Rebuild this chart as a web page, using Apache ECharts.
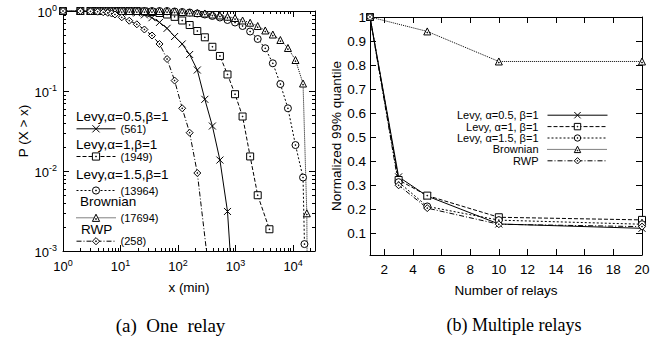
<!DOCTYPE html>
<html>
<head>
<meta charset="utf-8">
<script src="https://cdn.jsdelivr.net/npm/echarts@6/dist/echarts.min.js"></script>
<style>
  html, body { margin: 0; padding: 0; background: #fff; }
  #chart { width: 662px; height: 339px; }
</style>
</head>
<body>
<div id="chart"></div>
<script>
const FONT = '"Liberation Sans", Arial, sans-serif';
const SERIF = '"Liberation Serif", "Times New Roman", serif';

// (a) One relay: [x in minutes, P(X > x)]
const levy05A = [[1,1],[2,1],[3,1],[4,1],[5,1],[6,1],[7,1],[8,0.993],[10.5,0.985],[14.2,0.97],[19.2,0.945],[26,0.895],[35.2,0.825],[47.6,0.72],[64.4,0.607],[87.1,0.48],[118,0.387],[159,0.286],[216,0.183],[292,0.0787],[395,0.0365],[534,0.0137],[723,0.00312],[990,0.0001]];
const levy1A = [[1,1],[2,1],[3,1],[4,1],[5,1],[6,1],[7,1],[8,1],[10.5,1],[14.2,1],[19.2,1],[26,0.986],[35.2,0.972],[47.6,0.944],[64.4,0.904],[87.1,0.845],[118,0.761],[159,0.668],[216,0.562],[292,0.469],[395,0.357],[534,0.274],[723,0.161],[978,0.0912],[1323,0.048],[1791,0.0152],[2423,0.00498],[3873,0.00187]];
const levy15A = [[1,1],[2,1],[3,1],[4,1],[5,1],[6,1],[7,1],[8,1],[10.5,1],[14.2,1],[19.2,1],[26,1],[35.2,1],[47.6,1],[64.4,1],[87.1,0.986],[118,0.972],[159,0.958],[216,0.931],[292,0.904],[395,0.866],[534,0.829],[723,0.772],[978,0.718],[1323,0.649],[1791,0.554],[2423,0.447],[3278,0.342],[4436,0.222],[6001,0.122],[8121,0.0608],[10987,0.0211],[14866,0.00829],[15740,0.00122]];
const brownianA = [[1,1],[2,1],[3,1],[4,1],[5,1],[6,1],[7,1],[8,1],[10.5,1],[14.2,1],[19.2,1],[26,1],[35.2,1],[47.6,1],[64.4,1],[87.1,0.986],[118,0.972],[159,0.958],[216,0.944],[292,0.931],[395,0.904],[534,0.879],[723,0.849],[978,0.818],[1323,0.761],[1791,0.714],[2423,0.649],[3278,0.571],[4436,0.508],[6001,0.434],[8121,0.345],[10987,0.244],[14866,0.124],[17300,0.00296],[17800,0.0001]];
const rwpA = [[1,1],[2,1],[3,0.99],[4,0.98],[5,0.965],[6,0.95],[7,0.93],[8,0.905],[10.5,0.834],[14.2,0.756],[19.2,0.682],[26,0.587],[35.2,0.494],[47.6,0.387],[64.4,0.251],[87.1,0.135],[118,0.0608],[159,0.0301],[216,0.00944],[455,0.0001]];
const titlesA = ['Levy,α=0.5,β=1', 'Levy,α=1,β=1', 'Levy,α=1.5,β=1', 'Brownian', 'RWP'];
const countsA = ['(561)', '(1949)', '(13964)', '(17694)', '(258)'];

// (b) Multiple relays: normalized 99% quantile per number of relays
const relays = [1, 3, 5, 10, 20];
const relaysBrownian = [1, 5, 10, 20];
const levy05B = [1, 0.335, 0.255, 0.139, 0.121];
const levy1B = [1, 0.322, 0.257, 0.167, 0.156];
const levy15B = [1, 0.313, 0.212, 0.155, 0.138];
const brownianB = [1, 0.94, 0.815, 0.815];
const rwpB = [1, 0.30, 0.205, 0.138, 0.128];
const namesB = ['Levy, α=0.5, β=1', 'Levy, α=1, β=1', 'Levy, α=1.5, β=1', 'Brownian', 'RWP'];
const xTicksB = [2, 4, 6, 8, 10, 12, 14, 16, 18, 20];
const yTicksB = [0.1, 0.2, 0.3, 0.4, 0.5, 0.6, 0.7, 0.8, 0.9, 1];

// legend placement of panel (a), px
const titleLeftA = [76, 76, 76, 80, 81];
const titleMidA = [118, 146, 175.7, 203.3, 231.3];
const sampleMidA = [128.3, 156, 190, 217.3, 240.7];

// gnuplot-like point types (hollow with a centre dot) and dash patterns
const marks = [
  { symbol: 'path://M0,0L10,10M10,0L0,10', dash: 'solid' },
  { symbol: 'path://M0,0H10V10H0Z M4.5,4.5H5.5V5.5H4.5Z', dash: [4, 2] },
  { symbol: 'path://M10,5A5,5,0,1,1,0,5A5,5,0,1,1,10,5Z M4.5,4.5H5.5V5.5H4.5Z', dash: [2, 2] },
  { symbol: 'path://M5,0L10,9L0,9Z M4.5,5.5H5.5V6.5H4.5Z', dash: [1, 1] },
  { symbol: 'path://M5,0L10,5L5,10L0,5Z M4.5,4.5H5.5V5.5H4.5Z', dash: [5, 2, 1, 2] }
];

function line(name, data, mark, axis) {
  return {
    type: 'line', name, data, xAxisIndex: axis, yAxisIndex: axis,
    symbol: mark.symbol, symbolSize: 7,
    lineStyle: { color: '#000', width: 1, type: mark.dash },
    itemStyle: { color: '#fff', borderColor: '#000', borderWidth: 1 },
    emphasis: { disabled: true }, silent: true, animation: false
  };
}

// 2..9 x 10^e for the log minor ticks
function minorValues(from, to, max) {
  const out = [];
  for (let e = from; e < to; e++)
    for (let m = 2; m <= 9; m++) if (m * Math.pow(10, e) < max) out.push(m * Math.pow(10, e));
  return out;
}

function minorTicks(values, dir) {
  return {
    type: 'custom', xAxisIndex: 0, yAxisIndex: 0, silent: true, clip: false, animation: false,
    data: values.map(v => dir === 'x' ? [v, 1] : [1, v]),
    renderItem: (params, api) => {
      const r = params.coordSys;
      const p = api.coord([api.value(0), api.value(1)]);
      const s = { stroke: '#000', lineWidth: 1 };
      if (dir === 'x') {
        const x = Math.round(p[0]) + 0.5;
        return { type: 'group', children: [
          { type: 'line', shape: { x1: x, y1: r.y + r.height, x2: x, y2: r.y + r.height - 3 }, style: s },
          { type: 'line', shape: { x1: x, y1: r.y, x2: x, y2: r.y + 3 }, style: s }
        ] };
      }
      const y = Math.round(p[1]) + 0.5;
      return { type: 'group', children: [
        { type: 'line', shape: { x1: r.x, y1: y, x2: r.x + 3, y2: y }, style: s },
        { type: 'line', shape: { x1: r.x + r.width, y1: y, x2: r.x + r.width - 3, y2: y }, style: s }
      ] };
    }
  };
}

const pow10Label = v => {
  const e = Math.round(Math.log10(v));
  return Math.abs(v / Math.pow(10, e) - 1) < 1e-6 ? '{b|10}{s|' + e + '}' : '';
};
const powRich = {
  b: { fontSize: 13, fontFamily: FONT, color: '#000', lineHeight: 13, verticalAlign: 'bottom' },
  s: { fontSize: 9, fontFamily: FONT, color: '#000', lineHeight: 15, verticalAlign: 'top' }
};

const axLine = { show: true, onZero: false, lineStyle: { color: '#000', width: 1 } };
const axTick = { show: true, inside: true, length: 6, lineStyle: { color: '#000', width: 1 } };
const nameStyle = { fontFamily: FONT, fontSize: 13.5, color: '#000' };
const labelStyle = { fontFamily: FONT, fontSize: 13.5, color: '#000' };

const chart = echarts.init(document.getElementById('chart'), null, { renderer: 'svg' });

chart.setOption({
  backgroundColor: '#fff',
  animation: false,
  grid: [
    { left: 63, top: 11, width: 252, height: 240 },
    { left: 370, top: 17, width: 272, height: 238 }
  ],
  xAxis: [
    { type: 'log', logBase: 10, gridIndex: 0, min: 1, max: 24000, position: 'bottom',
      axisLine: axLine, axisTick: axTick, splitLine: { show: false },
      axisLabel: { formatter: pow10Label, rich: powRich, margin: 7, showMaxLabel: false },
      name: 'x (min)', nameLocation: 'middle', nameGap: 29, nameTextStyle: nameStyle },
    { type: 'log', logBase: 10, gridIndex: 0, min: 1, max: 24000, position: 'top',
      axisLine: axLine, axisTick: axTick, splitLine: { show: false }, axisLabel: { show: false } },
    { type: 'value', gridIndex: 1, min: 1, max: 20, position: 'bottom',
      axisLine: axLine, axisTick: { ...axTick, customValues: xTicksB }, splitLine: { show: false },
      axisLabel: { ...labelStyle, customValues: xTicksB, margin: 7 },
      name: 'Number of relays', nameLocation: 'middle', nameGap: 28, nameTextStyle: nameStyle },
    { type: 'value', gridIndex: 1, min: 1, max: 20, position: 'top',
      axisLine: axLine, axisTick: { ...axTick, customValues: xTicksB }, splitLine: { show: false },
      axisLabel: { show: false } }
  ],
  yAxis: [
    { type: 'log', logBase: 10, gridIndex: 0, min: 0.001, max: 1, position: 'left',
      axisLine: axLine, axisTick: axTick, splitLine: { show: false },
      axisLabel: { formatter: pow10Label, rich: powRich, margin: 6 },
      name: 'P (X > x)', nameLocation: 'middle', nameGap: 25, nameTextStyle: nameStyle },
    { type: 'log', logBase: 10, gridIndex: 0, min: 0.001, max: 1, position: 'right',
      axisLine: axLine, axisTick: axTick, splitLine: { show: false }, axisLabel: { show: false } },
    { type: 'value', gridIndex: 1, min: 0.01, max: 1, position: 'left',
      axisLine: axLine, axisTick: { ...axTick, customValues: yTicksB }, splitLine: { show: false },
      axisLabel: { ...labelStyle, customValues: yTicksB, margin: 4,
        formatter: v => (v === 1 ? '1' : v.toFixed(1)) },
      name: 'Normalized 99% quantile', nameLocation: 'middle', nameGap: 22, nameTextStyle: nameStyle },
    { type: 'value', gridIndex: 1, min: 0.01, max: 1, position: 'right',
      axisLine: axLine, axisTick: { ...axTick, customValues: yTicksB }, splitLine: { show: false },
      axisLabel: { show: false } }
  ],
  title: [
    ...titlesA.map((t, i) => ({
      text: t, left: titleLeftA[i], top: titleMidA[i] - 7.5, padding: 0,
      textStyle: { fontFamily: FONT, fontSize: 13.5, fontWeight: 'normal', color: '#000', lineHeight: 12 }
    })),
    { text: '(a)\u2002One\u2002relay', left: 170.5, top: 314, textAlign: 'center', padding: 0,
      textStyle: { fontFamily: SERIF, fontSize: 19, fontWeight: 'normal', color: '#000', lineHeight: 22 } },
    { text: '(b) Multiple relays', left: 514, top: 314, textAlign: 'center', padding: 0,
      textStyle: { fontFamily: SERIF, fontSize: 18, fontWeight: 'normal', color: '#000', lineHeight: 22 } }
  ],
  legend: [
    ...titlesA.map((t, i) => ({
      data: [t + ' ' + countsA[i]], left: 76, top: sampleMidA[i] - 5, padding: 0,
      itemWidth: 39, itemHeight: 9, selectedMode: false,
      itemStyle: { borderWidth: 1 }, lineStyle: { width: 1 },
      formatter: () => countsA[i],
      textStyle: { fontFamily: FONT, fontSize: 11, color: '#000', lineHeight: 10 }
    })),
    { data: namesB, right: 54, top: 109.5, orient: 'vertical', align: 'right', padding: 0,
      itemGap: 0, itemWidth: 60, itemHeight: 8, selectedMode: false,
      itemStyle: { borderWidth: 1 }, lineStyle: { width: 1 },
      textStyle: { fontFamily: FONT, fontSize: 11, color: '#000', lineHeight: 11.4, padding: [0, 4, 0, 0] } }
  ],
  series: [
    minorTicks(minorValues(0, 5, 24000), 'x'),
    minorTicks(minorValues(-3, 0, 1), 'y'),
    ...[levy05A, levy1A, levy15A, brownianA, rwpA].map((d, i) =>
      line(titlesA[i] + ' ' + countsA[i], d, marks[i], 0)),
    ...[levy05B, levy1B, levy15B, brownianB, rwpB].map((v, i) =>
      line(namesB[i], (i === 3 ? relaysBrownian : relays).map((x, j) => [x, v[j]]), marks[i], 2))
  ]
});
</script>
</body>
</html>
